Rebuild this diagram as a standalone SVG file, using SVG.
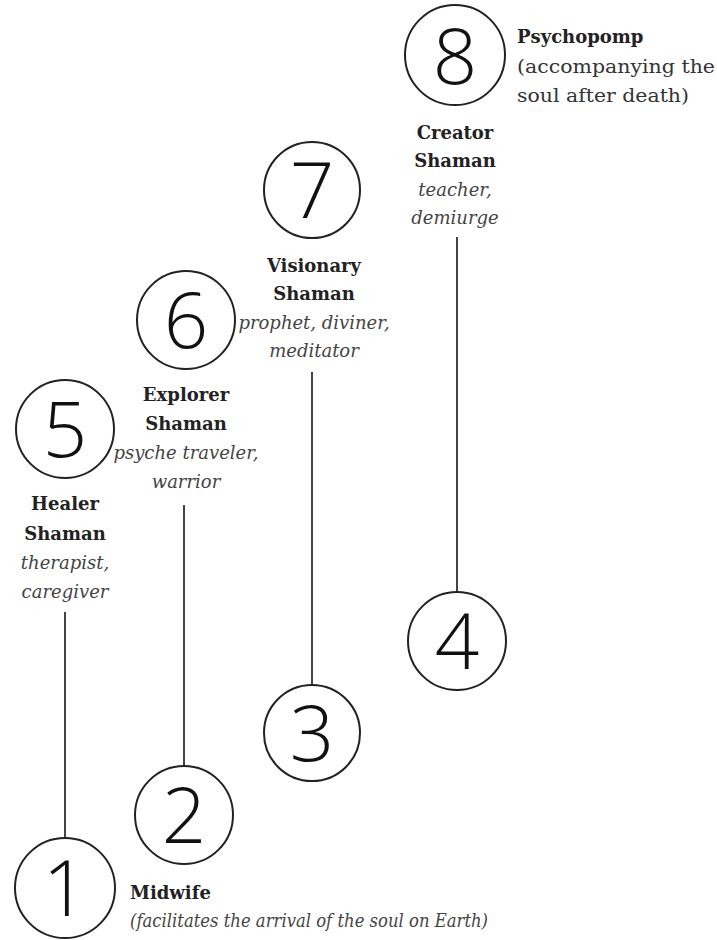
<svg xmlns="http://www.w3.org/2000/svg" width="717" height="940" viewBox="0 0 717 940">
  <style>
    .ring { fill: none; stroke: #222; stroke-width: 2; }
    .num { font-family: "Open Sans", "Liberation Sans", sans-serif; font-weight: 300; font-size: 78px; fill: #111; text-anchor: middle; }
    .name { font-family: "DejaVu Serif", "Liberation Serif", serif; font-weight: bold; font-size: 18px; fill: #222; text-anchor: middle; }
    .role { font-family: "DejaVu Serif", "Liberation Serif", serif; font-style: italic; font-size: 18px; fill: #444; text-anchor: middle; }
    .note { font-family: "DejaVu Serif", "Liberation Serif", serif; font-size: 19px; fill: #333; }
    .start { text-anchor: start; }
    .link { stroke: #444; stroke-width: 2; }
  </style>
  <rect width="717" height="940" fill="#fff"/>

  <g id="connectors">
    <line class="link" x1="65" y1="612" x2="65" y2="838"/>
    <line class="link" x1="184" y1="505" x2="184" y2="766"/>
    <line class="link" x1="312" y1="372" x2="312" y2="685"/>
    <line class="link" x1="457" y1="237" x2="457" y2="592"/>
  </g>

  <g id="node-1">
    <circle class="ring" cx="65" cy="888" r="50"/>
    <text class="num" x="65" y="916">1</text>
    <text class="name start" x="130" y="899">Midwife</text>
    <text class="role start" x="130" y="927" textLength="358" lengthAdjust="spacingAndGlyphs">(facilitates the arrival of the soul on Earth)</text>
  </g>

  <g id="node-2">
    <circle class="ring" cx="184" cy="815" r="49"/>
    <text class="num" x="184" y="843">2</text>
  </g>

  <g id="node-3">
    <circle class="ring" cx="312" cy="733" r="48"/>
    <text class="num" x="312" y="761">3</text>
  </g>

  <g id="node-4">
    <circle class="ring" cx="457" cy="641" r="49"/>
    <text class="num" x="457" y="669">4</text>
  </g>

  <g id="node-5">
    <circle class="ring" cx="65" cy="429" r="49"/>
    <text class="num" x="65" y="457">5</text>
    <text class="name" x="65" y="510">Healer</text>
    <text class="name" x="65" y="540">Shaman</text>
    <text class="role" x="65" y="569">therapist,</text>
    <text class="role" x="65" y="598">caregiver</text>
  </g>

  <g id="node-6">
    <circle class="ring" cx="186" cy="320" r="49"/>
    <text class="num" x="186" y="348">6</text>
    <text class="name" x="186" y="401">Explorer</text>
    <text class="name" x="186" y="430">Shaman</text>
    <text class="role" x="186" y="459">psyche traveler,</text>
    <text class="role" x="186" y="488">warrior</text>
  </g>

  <g id="node-7">
    <circle class="ring" cx="312" cy="190" r="48"/>
    <text class="num" x="312" y="218">7</text>
    <text class="name" x="314" y="272">Visionary</text>
    <text class="name" x="314" y="300">Shaman</text>
    <text class="role" x="314" y="329">prophet, diviner,</text>
    <text class="role" x="314" y="357">meditator</text>
  </g>

  <g id="node-8">
    <circle class="ring" cx="455" cy="55" r="50"/>
    <text class="num" x="455" y="84">8</text>
    <text class="name" x="455" y="139">Creator</text>
    <text class="name" x="455" y="167">Shaman</text>
    <text class="role" x="455" y="196">teacher,</text>
    <text class="role" x="455" y="224">demiurge</text>
    <text class="name start" x="517" y="43">Psychopomp</text>
    <text class="note" x="517" y="73" textLength="198" lengthAdjust="spacingAndGlyphs">(accompanying the</text>
    <text class="note" x="517" y="102" textLength="172" lengthAdjust="spacingAndGlyphs">soul after death)</text>
  </g>
</svg>
